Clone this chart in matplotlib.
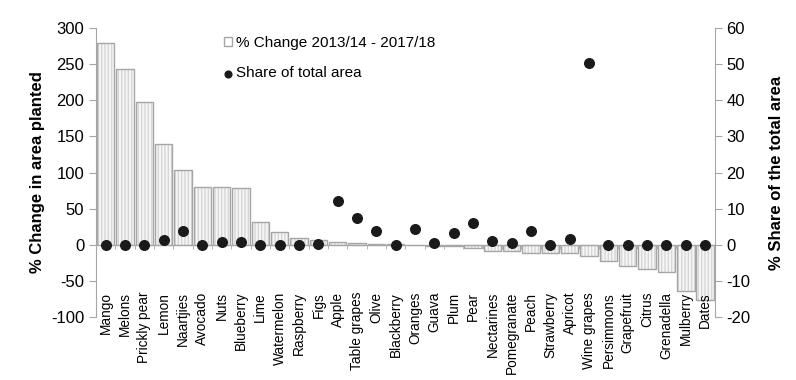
import matplotlib.pyplot as plt
import numpy as np

plt.rcParams['font.family'] = ['Liberation Sans', 'DejaVu Sans']
plt.rcParams['axes.unicode_minus'] = False

crops = ["Mango", "Melons", "Prickly pear", "Lemon", "Naartjies", "Avocado", "Nuts",
         "Blueberry", "Lime", "Watermelon", "Raspberry", "Figs", "Apple", "Table grapes",
         "Olive", "Blackberry", "Oranges", "Guava", "Plum", "Pear", "Nectarines",
         "Pomegranate", "Peach", "Strawberry", "Apricot", "Wine grapes", "Persimmons",
         "Grapefruit", "Citrus", "Grenadella", "Mulberry", "Dates"]

pct_change = [280, 244, 197, 140, 104, 80, 80, 78, 31, 17, 10, 7, 3.5, 2, 1, 0.5,
              -1, -1.5, -2, -4, -9, -9, -11.5, -12, -12, -15, -22, -30, -34, -38, -64, -77]

share_area = [0, 0, 0, 1.3, 3.7, 0, 0.7, 0.7, 0, 0, 0, 0.2, 12, 7.4, 3.7, 0,
              4.3, 0.6, 3.2, 6, 1.1, 0.6, 3.9, 0, 1.7, 50.4, 0, 0, 0, 0, 0, 0]

grey = '#a6a6a6'
x = np.arange(len(crops))

fig, ax = plt.subplots(figsize=(7.96, 3.8), dpi=100)
fig.subplots_adjust(left=0.1206, right=0.898, top=0.926, bottom=0.166)

# hatch layer, then outline layer
ax.bar(x, pct_change, width=0.9, color='#f6f6f6', edgecolor='#d6d6d6', hatch='|||||', linewidth=0)
bars = ax.bar(x, pct_change, width=0.9, fill=False, edgecolor=grey, linewidth=1.0,
              label='% Change 2013/14 - 2017/18')

ax.set_ylim(-100, 300)
ax.set_yticks(range(-100, 301, 50))
ax.set_xlim(-0.5, len(crops) - 0.5)

ax.spines['top'].set_visible(False)
ax.spines['right'].set_visible(False)
ax.spines['left'].set_color(grey)
ax.spines['bottom'].set_position(('data', 0))
ax.spines['bottom'].set_color(grey)

ax.set_xticks(x)
ax.set_xticklabels(crops, rotation=90, fontsize=9.8, va='top')
ax.set_xticks(np.arange(len(crops) + 1) - 0.5, minor=True)
ax.tick_params(axis='x', which='major', length=0, pad=34)
ax.tick_params(axis='x', which='minor', length=3, color=grey)
ax.tick_params(axis='y', length=5, color=grey, labelsize=12)
ax.set_ylabel('% Change in area planted', fontsize=12, fontweight='bold')

ax2 = ax.twinx()
pts = ax2.scatter(x, share_area, s=48, color='#1a1a1a', zorder=5, label='Share of total area')
ax2.set_ylim(-20, 60)
ax2.set_yticks(range(-20, 61, 10))
for s in ['top', 'left', 'bottom']:
    ax2.spines[s].set_visible(False)
ax2.spines['right'].set_color(grey)
ax2.tick_params(axis='y', length=5, color=grey, labelsize=12)
ax2.set_ylabel('% Share of the total area', fontsize=12, fontweight='bold', rotation=90)
ax2.yaxis.set_label_coords(1.088, 0.5)

ax2.legend(handles=[bars, pts], loc='upper left', bbox_to_anchor=(0.185, 1.02), frameon=False,
           fontsize=11, handlelength=0.5, handleheight=0.5, handletextpad=0.3,
           labelspacing=1.05, markerscale=0.7)

plt.savefig('out.png', dpi=100)
